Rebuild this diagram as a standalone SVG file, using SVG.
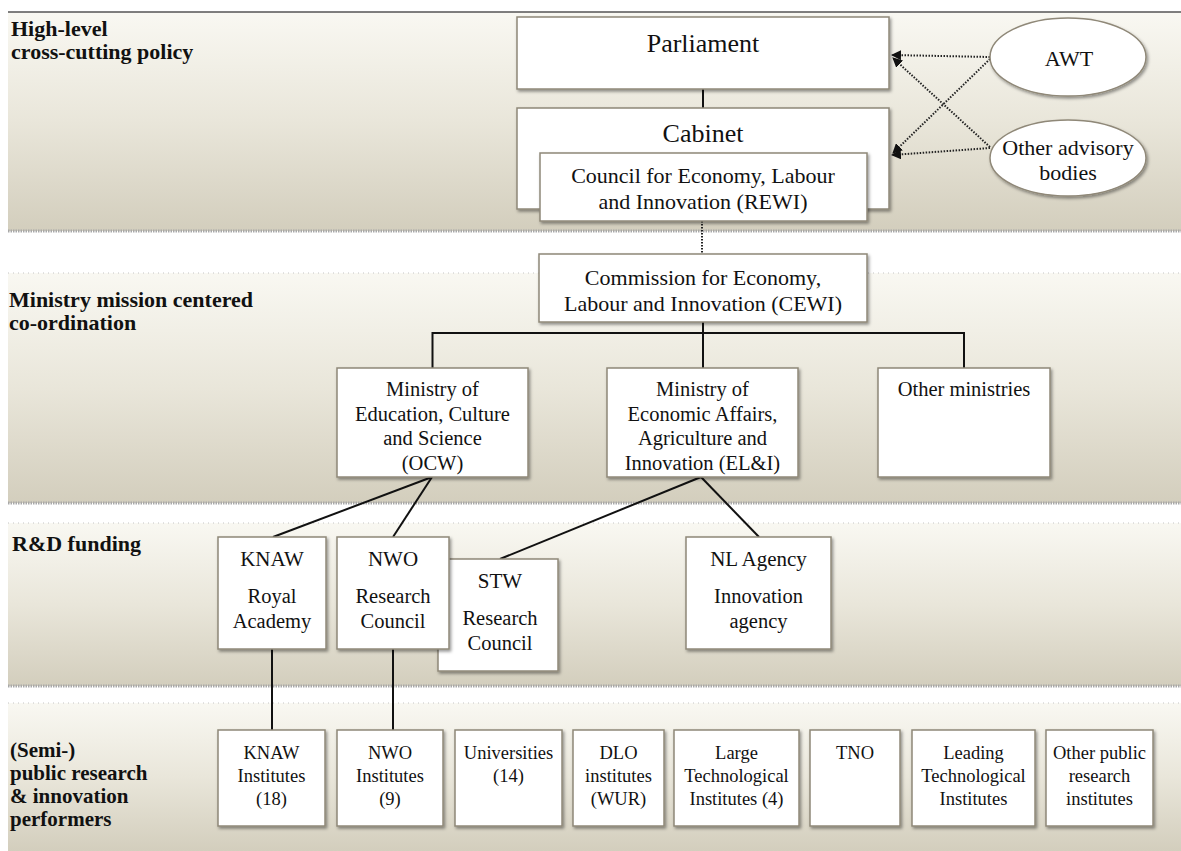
<svg xmlns="http://www.w3.org/2000/svg" width="1181" height="851" viewBox="0 0 1181 851">
<defs>
  <linearGradient id="bandGrad" x1="0" y1="0" x2="0" y2="1">
    <stop offset="0" stop-color="#f9f8f2"/>
    <stop offset="0.5" stop-color="#e9e6da"/>
    <stop offset="1" stop-color="#d3cebd"/>
  </linearGradient>
  <filter id="sh" x="-10%" y="-10%" width="125%" height="130%">
    <feDropShadow dx="1.5" dy="2" stdDeviation="1.5" flood-color="#000" flood-opacity="0.4"/>
  </filter>
  <marker id="arr" viewBox="0 0 10 10" refX="9" refY="5" markerWidth="10" markerHeight="10" markerUnits="userSpaceOnUse" orient="auto">
    <path d="M0,0 L10,5 L0,10 z" fill="#111"/>
  </marker>
</defs>
<style>
  .band { fill: url(#bandGrad); }
  .btop { stroke: #c4c4c4; stroke-width: 1; stroke-dasharray: 1 4; fill: none; }
  .bbot { stroke: #a8a8a8; stroke-width: 3; stroke-dasharray: 1.5 1; fill: none; }
  .box { fill: #ffffff; stroke: #8f8878; stroke-width: 1.5; filter: url(#sh); }
  .t { font-family: "Liberation Serif", "Times New Roman", serif; fill: #111; text-anchor: middle; }
  .lbl { font-family: "Liberation Serif", "Times New Roman", serif; font-weight: bold; font-size: 22px; fill: #111; }
  .lbl4 { font-size: 21px; }
  .conn { stroke: #111; stroke-width: 2; fill: none; }
  .dot { stroke: #222; stroke-width: 2; stroke-dasharray: 1.5 1.5; fill: none; }
  .s26 { font-size: 26px; }
  .s22 { font-size: 22px; }
  .s21 { font-size: 21px; }
  .s20 { font-size: 20.5px; }
  .s18 { font-size: 18.5px; }
</style>
<rect x="0" y="0" width="1181" height="851" fill="#ffffff"/>
<g id="bands">
  <rect class="band" x="8" y="12" width="1173" height="219"/>
  <line x1="8" y1="12" x2="1181" y2="12" stroke="#555" stroke-width="1.5"/>
  <line class="bbot" x1="8" y1="231" x2="1181" y2="231"/>
  <rect class="band" x="8" y="273" width="1173" height="230"/>
  <line class="btop" x1="8" y1="273" x2="1181" y2="273"/>
  <line class="bbot" x1="8" y1="503" x2="1181" y2="503"/>
  <rect class="band" x="8" y="523" width="1173" height="163"/>
  <line class="btop" x1="8" y1="523" x2="1181" y2="523"/>
  <line class="bbot" x1="8" y1="686" x2="1181" y2="686"/>
  <rect class="band" x="8" y="703" width="1173" height="148"/>
  <line class="btop" x1="8" y1="703" x2="1181" y2="703"/>
</g>
<g id="band-labels">
  <text class="lbl" x="11" y="36">High-level</text>
  <text class="lbl" x="11" y="59">cross-cutting policy</text>
  <text class="lbl" x="9" y="307">Ministry mission centered</text>
  <text class="lbl" x="9" y="330">co-ordination</text>
  <text class="lbl" x="12" y="551">R&amp;D funding</text>
  <text class="lbl lbl4" x="10" y="757">(Semi-)</text>
  <text class="lbl lbl4" x="10" y="780">public research</text>
  <text class="lbl lbl4" x="10" y="803">&amp; innovation</text>
  <text class="lbl lbl4" x="10" y="826">performers</text>
</g>
<g id="connectors">
  <line class="conn" x1="703" y1="89" x2="703" y2="108"/>
  <line class="dot" x1="702" y1="221" x2="702" y2="254"/>
  <line class="conn" x1="703" y1="322" x2="703" y2="368"/>
  <polyline class="conn" points="432.5,368 432.5,333 964,333 964,368"/>
  <line class="conn" x1="432" y1="477" x2="273" y2="537"/>
  <line class="conn" x1="432" y1="477" x2="393" y2="537"/>
  <line class="conn" x1="701" y1="477" x2="500" y2="559"/>
  <line class="conn" x1="701" y1="477" x2="759" y2="537"/>
  <line class="conn" x1="272" y1="649" x2="272" y2="730"/>
  <line class="conn" x1="393" y1="649" x2="393" y2="730"/>
  <line class="dot" x1="990" y1="57" x2="892" y2="55" marker-end="url(#arr)"/>
  <line class="dot" x1="990" y1="59" x2="893" y2="153" marker-end="url(#arr)"/>
  <line class="dot" x1="990" y1="147" x2="893" y2="58" marker-end="url(#arr)"/>
  <line class="dot" x1="990" y1="148" x2="892" y2="155" marker-end="url(#arr)"/>
</g>
<g id="parliament">
  <rect class="box" x="517" y="17" width="372" height="72"/>
  <text class="t s26" x="703" y="52">Parliament</text>
</g>
<g id="cabinet">
  <rect class="box" x="517" y="108" width="372" height="101"/>
  <text class="t s26" x="703" y="142">Cabinet</text>
</g>
<g id="rewi">
  <rect class="box" x="540" y="153" width="327" height="68"/>
  <text class="t s22" x="703" y="183">Council for Economy, Labour</text>
  <text class="t s22" x="703" y="209">and Innovation (REWI)</text>
</g>
<g id="awt">
  <ellipse class="box" cx="1068" cy="57" rx="78" ry="39"/>
  <text class="t s22" x="1069" y="66">AWT</text>
</g>
<g id="other-advisory">
  <ellipse class="box" cx="1068" cy="158" rx="78" ry="38"/>
  <text class="t s22" x="1068" y="155">Other advisory</text>
  <text class="t s22" x="1068" y="180">bodies</text>
</g>
<g id="cewi">
  <rect class="box" x="539" y="254" width="328" height="68"/>
  <text class="t s22" x="703" y="285">Commission for Economy,</text>
  <text class="t s22" x="703" y="311">Labour and Innovation (CEWI)</text>
</g>
<g id="ocw">
  <rect class="box" x="337" y="368" width="191" height="109"/>
  <text class="t s20" x="432.5" y="396">Ministry of</text>
  <text class="t s20" x="432.5" y="421">Education, Culture</text>
  <text class="t s20" x="432.5" y="445">and Science</text>
  <text class="t s20" x="432.5" y="470">(OCW)</text>
</g>
<g id="eli">
  <rect class="box" x="607" y="368" width="191" height="109"/>
  <text class="t s20" x="702.5" y="396">Ministry of</text>
  <text class="t s20" x="702.5" y="421">Economic Affairs,</text>
  <text class="t s20" x="702.5" y="445">Agriculture and</text>
  <text class="t s20" x="702.5" y="470">Innovation (EL&amp;I)</text>
</g>
<g id="other-ministries">
  <rect class="box" x="878" y="368" width="172" height="109"/>
  <text class="t s20" x="964" y="396">Other ministries</text>
</g>
<g id="stw">
  <rect class="box" x="438" y="559" width="120" height="112"/>
  <text class="t s21" x="500" y="588">STW</text>
  <text class="t s20" x="500" y="625">Research</text>
  <text class="t s20" x="500" y="650">Council</text>
</g>
<g id="knaw">
  <rect class="box" x="218" y="537" width="108" height="112"/>
  <text class="t s21" x="272" y="566">KNAW</text>
  <text class="t s20" x="272" y="603">Royal</text>
  <text class="t s20" x="272" y="628">Academy</text>
</g>
<g id="nwo">
  <rect class="box" x="337" y="537" width="112" height="112"/>
  <text class="t s21" x="393" y="566">NWO</text>
  <text class="t s20" x="393" y="603">Research</text>
  <text class="t s20" x="393" y="628">Council</text>
</g>
<g id="nl-agency">
  <rect class="box" x="686" y="537" width="145" height="112"/>
  <text class="t s21" x="758.5" y="566">NL Agency</text>
  <text class="t s20" x="758.5" y="603">Innovation</text>
  <text class="t s20" x="758.5" y="628">agency</text>
</g>
<g id="knaw-institutes">
  <rect class="box" x="218" y="730" width="107" height="96"/>
  <text class="t s18" x="271.5" y="759">KNAW</text>
  <text class="t s18" x="271.5" y="782">Institutes</text>
  <text class="t s18" x="271.5" y="805">(18)</text>
</g>
<g id="nwo-institutes">
  <rect class="box" x="337" y="730" width="106" height="96"/>
  <text class="t s18" x="390" y="759">NWO</text>
  <text class="t s18" x="390" y="782">Institutes</text>
  <text class="t s18" x="390" y="805">(9)</text>
</g>
<g id="universities">
  <rect class="box" x="455" y="730" width="107" height="96"/>
  <text class="t s18" x="508.5" y="759">Universities</text>
  <text class="t s18" x="508.5" y="782">(14)</text>
</g>
<g id="dlo">
  <rect class="box" x="573" y="730" width="91" height="96"/>
  <text class="t s18" x="618.5" y="759">DLO</text>
  <text class="t s18" x="618.5" y="782">institutes</text>
  <text class="t s18" x="618.5" y="805">(WUR)</text>
</g>
<g id="large-tech">
  <rect class="box" x="674" y="730" width="125" height="96"/>
  <text class="t s18" x="736.5" y="759">Large</text>
  <text class="t s18" x="736.5" y="782">Technological</text>
  <text class="t s18" x="736.5" y="805">Institutes (4)</text>
</g>
<g id="tno">
  <rect class="box" x="810" y="730" width="90" height="96"/>
  <text class="t s18" x="855" y="759">TNO</text>
</g>
<g id="leading-tech">
  <rect class="box" x="912" y="730" width="123" height="96"/>
  <text class="t s18" x="973.5" y="759">Leading</text>
  <text class="t s18" x="973.5" y="782">Technological</text>
  <text class="t s18" x="973.5" y="805">Institutes</text>
</g>
<g id="other-public">
  <rect class="box" x="1046" y="730" width="107" height="96"/>
  <text class="t s18" x="1099.5" y="759">Other public</text>
  <text class="t s18" x="1099.5" y="782">research</text>
  <text class="t s18" x="1099.5" y="805">institutes</text>
</g>
</svg>
